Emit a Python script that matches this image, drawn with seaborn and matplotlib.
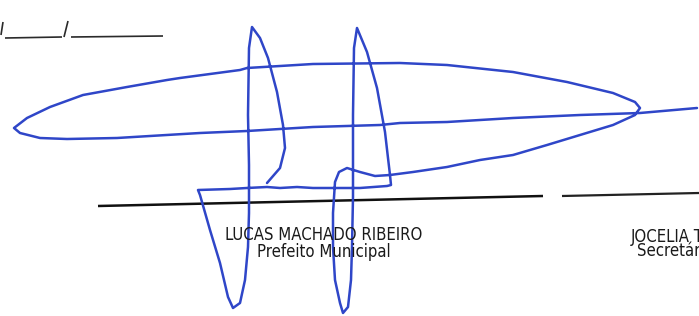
import matplotlib
matplotlib.use("Agg")
import matplotlib.pyplot as plt
import seaborn as sns
import pandas as pd

# ------------------------------
# data (pixel coordinates, y grows downward)
# ------------------------------
# the signature stroke, one continuous path
sig_x = [697, 640, 580, 513, 447, 400, 380, 313, 247, 200, 150, 117, 67, 40, 20, 14,
         27, 50, 83, 127, 167, 180, 240, 247, 313, 400, 447, 513, 567, 613, 635, 640,
         635, 613, 580, 547, 513, 480, 447, 413, 390, 375, 360, 347, 339, 335, 333, 333,
         335, 340, 343, 348, 351, 352, 353, 353, 353, 354, 357, 367, 377, 385, 388, 390,
         391, 387, 360, 337, 313, 297, 280, 267, 247, 230, 198, 200, 210, 220, 228, 233,
         240, 245, 248, 249, 249, 248, 249, 252, 260, 268, 277, 283, 285, 280, 267]
sig_y = [108, 113, 115, 118, 122, 123, 125, 127, 131, 133, 136, 138, 139, 138, 133, 128,
         118, 107, 95, 87, 80, 78, 70, 68, 64, 63, 65, 72, 82, 93, 102, 108,
         115, 125, 135, 145, 155, 160, 167, 172, 175, 176, 172, 168, 172, 182, 213, 247,
         280, 303, 313, 307, 280, 247, 197, 150, 115, 48, 28, 52, 88, 132, 158, 175,
         185, 186, 188, 188, 188, 187, 188, 187, 188, 189, 190, 195, 230, 263, 297, 308,
         303, 280, 247, 213, 165, 115, 48, 27, 38, 58, 92, 125, 148, 168, 183]

# black signature lines
line1_x = [98, 543]
line1_y = [206, 196]
line2_x = [562, 699]
line2_y = [196, 193]

# date blanks at the top left: "/____/________"
slash_x = [[3, 1], [68, 64]]
slash_y = [[22, 35], [21, 37]]
blank_x = [[5, 62], [71, 163]]
blank_y = [[38, 37], [37, 36]]

# printed names under the lines
names = ["LUCAS MACHADO RIBEIRO", "JOCELIA T"]
titles = ["Prefeito Municipal", "Secretári"]


def main():
    sns.set_style("white")
    plt.rcParams['font.family'] = ['DejaVu Sans']

    fig = plt.figure(figsize=(6.99, 3.16), dpi=100)
    ax = fig.add_axes([0, 0, 1, 1])

    # date blanks
    for xs, ys in zip(slash_x + blank_x, slash_y + blank_y):
        ax.plot(xs, ys, color="#2a2a2a", lw=1.2, solid_capstyle="butt")

    # black lines
    ax.plot(line1_x, line1_y, color="#111111", lw=1.8, solid_capstyle="butt")
    ax.plot(line2_x, line2_y, color="#222222", lw=1.6, solid_capstyle="butt")

    # names and roles
    txt = dict(va="baseline", fontsize=12, color="#1a1a1a", fontstretch="condensed")
    ax.text(324, 240.5, names[0], ha="center", **txt)
    ax.text(324, 257, titles[0], ha="center", **txt)
    ax.text(631, 242, names[1], ha="left", **txt)
    ax.text(637, 255.5, titles[1], ha="left", **txt)

    # signature in blue ink
    sig = pd.DataFrame({"x": sig_x, "y": sig_y})
    sns.lineplot(data=sig, x="x", y="y", sort=False, estimator=None, ax=ax,
                 color="#2f46c8", lw=1.8)
    ax.lines[-1].set_solid_joinstyle("round")
    ax.lines[-1].set_solid_capstyle("round")

    ax.set_xlim(0, 699)
    ax.set_ylim(316, 0)
    ax.axis("off")
    fig.savefig("out.png", dpi=100, facecolor="white")


if __name__ == "__main__":
    main()
